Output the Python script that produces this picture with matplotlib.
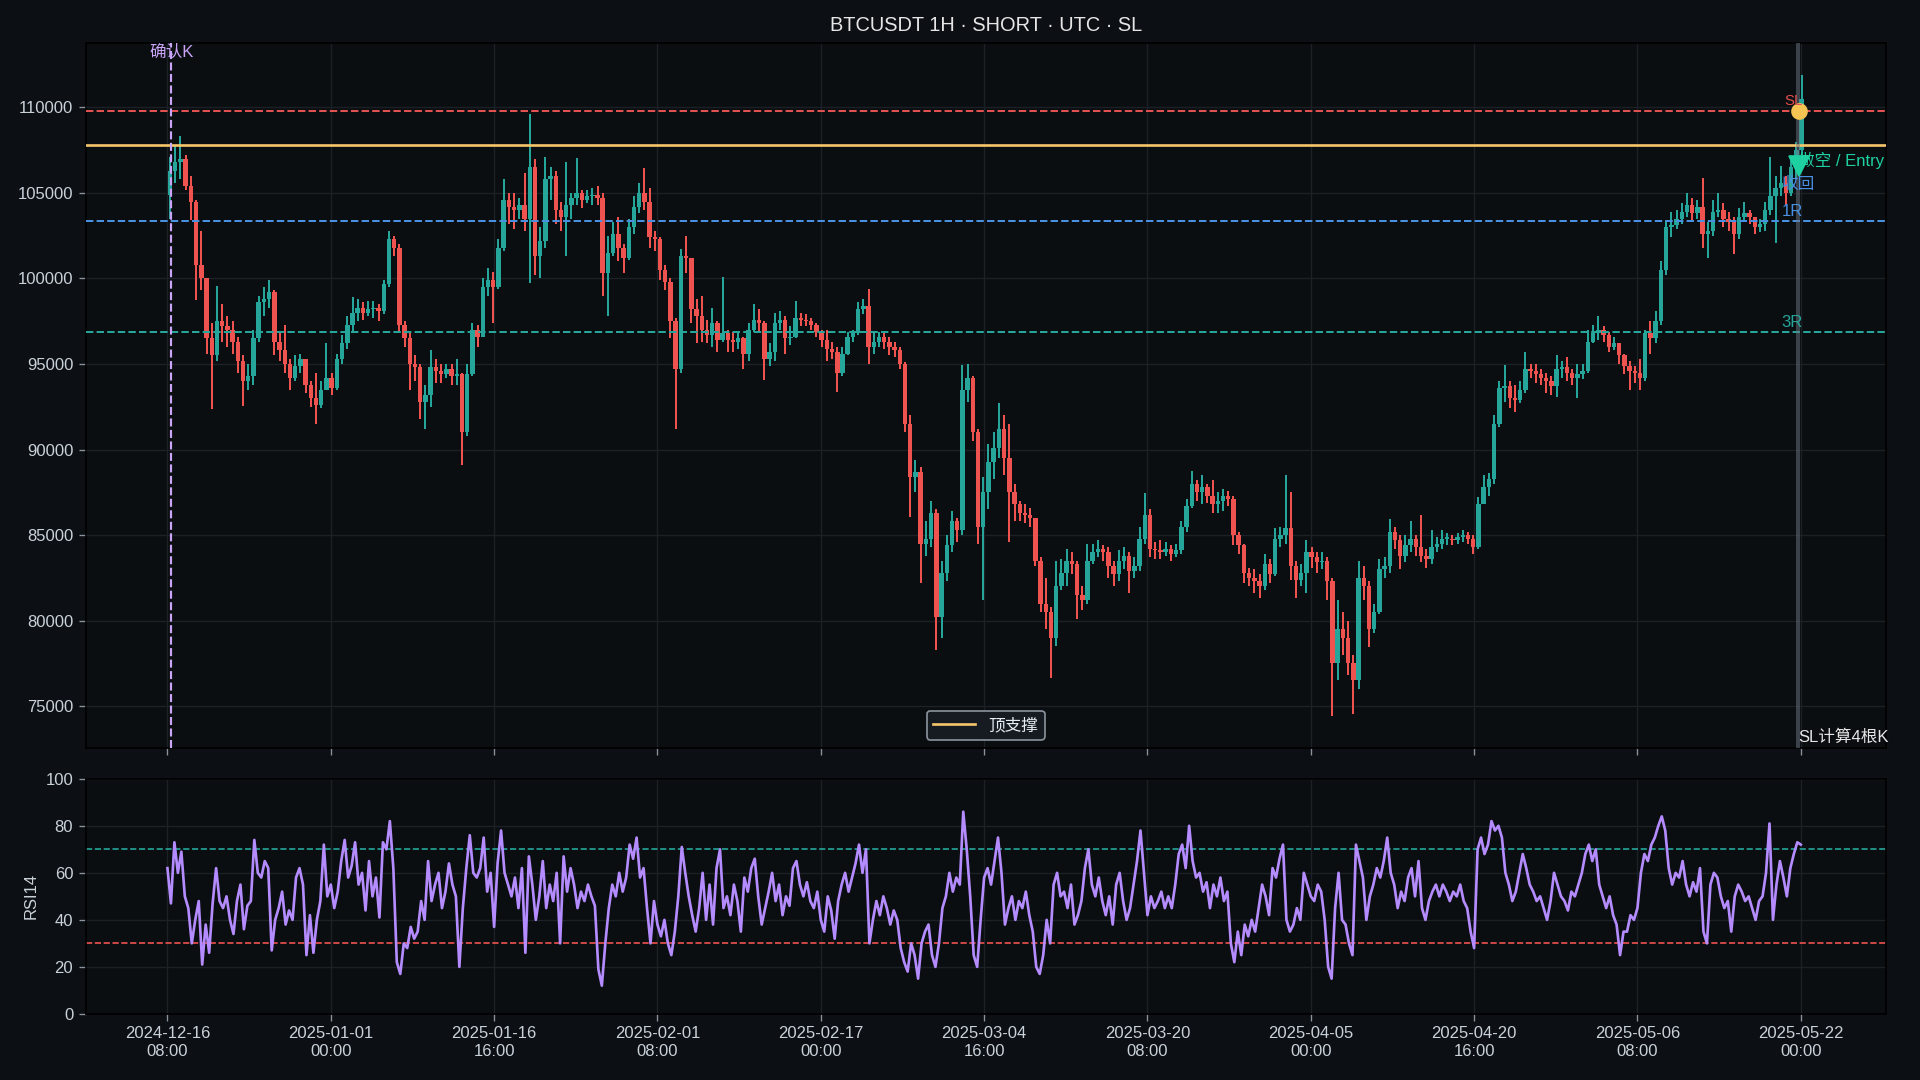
import numpy as np
import matplotlib
matplotlib.use("Agg")
import matplotlib.pyplot as plt
import matplotlib.transforms as mtransforms
from matplotlib.ticker import MultipleLocator, FuncFormatter, FixedLocator

plt.rcParams['font.family'] = ['Liberation Sans', 'Noto Sans CJK SC', 'DejaVu Sans']
plt.rcParams['axes.unicode_minus'] = False

# ---------------- data (12h candles, hours counted from 2024-12-16 08:00 UTC) ----------------
BAR_HOURS = 12
first_open = 104900
closes = [
    106300, 106800, 107000, 105400, 104500, 100800, 100000, 96500, 95500, 97500, 97200, 97000, 96300, 95200, 94000, 94300, 96500, 98600, 98800, 99200,
    96300, 95800, 95000, 94200, 94900, 95300, 93800, 93000, 92600, 93500, 94200, 93600, 95300, 96200, 97300, 98000, 98300, 98000, 98200, 98300,
    98100, 99700, 102300, 101800, 97300, 96500, 95000, 94800, 92800, 93200, 94800, 94600, 94400, 94700, 94300, 94400, 91000, 94400, 97000, 96600,
    99500, 99900, 99500, 101800, 104600, 104200, 104000, 104300, 103500, 106500, 101300, 102200, 105800, 106000, 104000, 103600, 104300, 104700, 105000, 104600,
    104800, 104900, 104700, 100300, 101500, 102600, 101800, 101200, 103000, 104200, 105000, 104500, 102400, 102300, 100500, 99800, 97500, 94700, 101300, 101200,
    98200, 97800, 97000, 96700, 97400, 96400, 96800, 96400, 96300, 96500, 95600, 97000, 97600, 97400, 95300, 95700, 97400, 97600, 96500, 96600,
    97700, 97600, 97500, 97300, 96900, 96400, 95900, 95700, 94500, 95600, 96600, 96800, 98200, 98400, 96000, 96300, 96600, 96300, 96000, 95800,
    95000, 91500, 88400, 88700, 84500, 84800, 86300, 80200, 82800, 84400, 85800, 85300, 93500, 94200, 91000, 85500, 87500, 89300, 90100, 91200,
    89500, 87500, 86800, 86300, 86200, 86000, 83500, 81000, 80500, 79000, 82000, 82800, 83500, 83300, 81500, 81200, 83500, 84000, 84200, 84000,
    83200, 82700, 83500, 83800, 82900, 83200, 84800, 86200, 84200, 84100, 84000, 84200, 83900, 84100, 85500, 86700, 88000, 87500, 87800, 87300,
    86800, 87000, 87300, 87100, 85000, 84400, 82800, 82500, 82300, 82000, 83300, 82700, 84800, 85000, 85400, 83200, 82400, 82800, 84000, 83700,
    83400, 83500, 82300, 77500, 79500, 79000, 77500, 76500, 82500, 82000, 79500, 80500, 83000, 83200, 85200, 84700, 83800, 84400, 84800, 84300,
    83800, 83600, 84300, 84500, 84800, 84800, 84700, 84900, 85000, 84800, 84300, 86800, 87800, 88300, 91500, 93600, 93700, 93000, 92900, 93500,
    94700, 94600, 94400, 94200, 94000, 93700, 94700, 94800, 94500, 94200, 94400, 94600, 96300, 96800, 97000, 96700, 96000, 96200, 95500, 94900,
    94600, 94500, 94200, 96800, 96500, 97500, 100500, 103000, 103100, 103500, 103900, 104300, 103800, 104200, 102600, 102800, 103900, 104000, 103500, 103300,
    102600, 103600, 103800, 103600, 103000, 103200, 104000, 104800, 105300, 105600, 105000, 106500, 107500, 110500,
]
highs = [
    107100, 107800, 108350, 107200, 106000, 104600, 102760, 99400, 97400, 99550, 98500, 97800, 97500, 96600, 95500, 95000, 97000, 99000, 99500, 99940,
    99300, 96800, 97300, 95300, 95500, 95600, 95300, 94000, 94500, 94000, 96250, 94500, 95600, 96700, 97800, 98900, 98800, 98600, 98700, 98700,
    98500, 99940, 102760, 102500, 102000, 97500, 96800, 95500, 95000, 93800, 95800, 95300, 95000, 95000, 95000, 95300, 94500, 95000, 97400, 97300,
    100000, 100600, 100400, 102300, 105800, 105000, 105000, 104700, 106150, 109600, 107000, 103000, 107100, 106500, 106300, 104500, 106830, 105000, 107030, 105200,
    105200, 105300, 105400, 105000, 102500, 103300, 103600, 102000, 103500, 104800, 105600, 106450, 105300, 102800, 102400, 100800, 100000, 97700, 101700, 102460,
    101200, 98800, 99000, 97600, 98300, 97500, 100080, 97000, 96900, 96800, 96600, 97400, 98480, 98200, 97500, 96200, 98000, 98100, 97800, 97200,
    98700, 98000, 97900, 97700, 97400, 97000, 97000, 96300, 96000, 96000, 96900, 97000, 98600, 98800, 99400, 96800, 96900, 96800, 96600, 96300,
    96000, 95100, 92000, 89400, 89000, 85800, 87000, 86500, 83500, 85000, 86400, 86000, 94920, 95000, 94300, 91200, 88400, 90300, 91000, 92730,
    92000, 91500, 88000, 87000, 86800, 86600, 86000, 83700, 82500, 80800, 83500, 83600, 84200, 84000, 83500, 82000, 84500, 84500, 84700, 84400,
    84300, 83500, 84100, 84300, 84000, 83700, 85500, 87440, 86500, 84600, 84700, 84600, 84400, 84500, 85800, 87100, 88740, 88200, 88500, 88000,
    88200, 87500, 87700, 87600, 87300, 85200, 84500, 83100, 83000, 82700, 83900, 83600, 85400, 85500, 88500, 87500, 83500, 83300, 84700, 84300,
    84000, 84000, 83700, 82500, 81200, 80500, 80000, 78000, 83500, 83200, 82300, 81000, 83600, 83700, 85960, 85500, 85000, 85000, 85800, 85000,
    86200, 84200, 85300, 84900, 85300, 85100, 85000, 85100, 85300, 85200, 85000, 87200, 88500, 88600, 92000, 94000, 94920, 94000, 93800, 94000,
    95700, 95000, 95000, 94700, 94500, 94300, 95500, 95200, 95400, 94700, 95000, 95000, 97000, 97300, 97790, 97200, 96900, 96600, 96200, 95600,
    95200, 94900, 95300, 97000, 97500, 98100, 101000, 103400, 103900, 104000, 104400, 105000, 104700, 104600, 105900, 103300, 104600, 105000, 104400, 103900,
    103600, 104100, 104500, 104000, 103600, 103500, 104500, 107130, 106000, 106600, 106000, 107000, 108000, 111900,
]
lows = [
    103500, 105600, 105800, 105200, 103400, 98770, 99300, 95600, 92370, 95200, 96300, 96000, 95600, 94500, 92560, 93500, 93800, 96300, 97800, 98300,
    95500, 95200, 94500, 93500, 94000, 94500, 93300, 92500, 91500, 92400, 93600, 93200, 93500, 95000, 95900, 96800, 97500, 97600, 97800, 97700,
    97500, 97900, 99500, 101300, 96800, 96000, 93500, 94000, 91800, 91200, 92500, 93900, 93900, 94200, 93800, 93800, 89070, 90800, 94300, 96000,
    96600, 99000, 97400, 99400, 101600, 103200, 102900, 103500, 102800, 99750, 100200, 100000, 101800, 104600, 103200, 102800, 101300, 103500, 104300, 104100,
    104400, 104300, 104300, 99000, 97800, 101300, 101000, 100300, 101100, 102600, 103800, 104000, 101800, 101600, 99900, 99300, 96500, 91200, 94500, 100300,
    97400, 96200, 96300, 96200, 96000, 95700, 96300, 95700, 95700, 95900, 94730, 95200, 96900, 96900, 94050, 94900, 95200, 97000, 95600, 96100,
    96500, 97200, 97200, 97000, 96600, 96000, 95200, 95300, 93370, 94300, 95500, 96300, 96700, 97900, 95000, 95600, 96000, 95900, 95500, 95400,
    94700, 91000, 86070, 87500, 82200, 83800, 84300, 78300, 79000, 82300, 84000, 84600, 85000, 92800, 90500, 84500, 81210, 86500, 88300, 89500,
    88500, 84620, 85800, 85800, 85700, 85500, 83200, 80500, 79500, 76640, 78500, 81800, 82000, 82700, 80100, 80600, 81000, 83300, 83700, 83500,
    82500, 82000, 82300, 83000, 81600, 82500, 82900, 84500, 83700, 83600, 83600, 83800, 83500, 83700, 83900, 85200, 86600, 87000, 86800, 86900,
    86300, 86300, 86400, 86700, 84400, 83900, 82200, 82000, 81600, 81300, 81800, 82200, 82600, 84300, 84500, 82400, 81300, 82000, 81600, 83100,
    82800, 83000, 81200, 74420, 76500, 78000, 76800, 74540, 76000, 81200, 78460, 79300, 80400, 82500, 82800, 84200, 83000, 83400, 84000, 83800,
    83400, 83100, 83300, 84000, 84200, 84400, 84400, 84500, 84600, 84500, 83900, 84200, 86800, 87300, 88000, 91300, 92800, 92400, 92200, 92700,
    93300, 94200, 93900, 93800, 93300, 93200, 93100, 94200, 94000, 93800, 93000, 94100, 94500, 96200, 96400, 96300, 95700, 95800, 95000, 94400,
    93500, 93900, 93500, 94000, 95600, 96200, 97300, 100200, 102400, 102900, 103200, 103600, 103300, 103500, 101800, 101180, 102500, 103600, 103000, 102800,
    101420, 102300, 103300, 103200, 102600, 102700, 102800, 103700, 102090, 104800, 104300, 104800, 105800, 106600,
]

# RSI14 read every 8 hours
RSI_STEP_HOURS = 8
rsi_values = [
    62, 47, 73, 60, 69, 50, 45, 30, 40, 48, 21, 38, 26, 47, 62, 48, 45, 50, 40, 34, 48, 55, 36, 46, 48, 74, 60, 58, 65, 62,
    27, 40, 45, 52, 38, 44, 40, 58, 62, 55, 25, 42, 26, 40, 48, 72, 50, 55, 45, 52, 65, 74, 58, 63, 73, 55, 60, 44, 65, 50,
    58, 41, 73, 70, 82, 62, 22, 17, 30, 28, 37, 32, 35, 48, 40, 65, 48, 55, 60, 45, 52, 64, 55, 50, 20, 45, 62, 76, 60, 58,
    62, 75, 52, 60, 37, 64, 78, 60, 55, 50, 58, 45, 62, 26, 67, 55, 40, 50, 65, 45, 55, 48, 60, 30, 67, 52, 62, 55, 45, 52,
    48, 55, 50, 46, 19, 12, 30, 45, 55, 50, 60, 52, 58, 72, 66, 75, 58, 62, 45, 30, 48, 38, 33, 40, 30, 25, 35, 50, 71, 60,
    50, 42, 35, 45, 60, 40, 55, 38, 62, 70, 45, 50, 42, 55, 48, 35, 58, 52, 62, 66, 50, 38, 45, 52, 60, 48, 55, 42, 50, 46,
    62, 65, 55, 50, 56, 48, 45, 52, 40, 35, 50, 44, 32, 48, 55, 60, 52, 58, 64, 72, 60, 70, 30, 40, 48, 42, 50, 45, 38, 44,
    40, 28, 22, 18, 30, 25, 15, 30, 35, 38, 25, 20, 30, 45, 50, 60, 52, 58, 55, 86, 70, 50, 25, 20, 40, 58, 62, 55, 65, 75,
    60, 38, 45, 50, 40, 48, 45, 52, 42, 35, 20, 17, 25, 40, 30, 55, 60, 50, 52, 45, 55, 38, 42, 48, 62, 70, 55, 50, 58, 48,
    42, 50, 38, 55, 60, 48, 40, 45, 55, 65, 78, 60, 42, 50, 45, 48, 52, 45, 50, 45, 55, 68, 72, 62, 80, 65, 58, 60, 52, 56,
    45, 55, 50, 58, 48, 52, 30, 22, 35, 25, 38, 33, 40, 35, 45, 55, 50, 42, 62, 58, 66, 72, 40, 35, 38, 45, 40, 60, 55, 50,
    48, 55, 52, 40, 20, 15, 45, 60, 40, 38, 30, 25, 72, 65, 58, 40, 50, 55, 62, 58, 65, 75, 60, 55, 45, 52, 48, 58, 62, 50,
    65, 45, 40, 48, 52, 55, 50, 55, 52, 48, 52, 50, 55, 48, 45, 35, 28, 70, 75, 68, 72, 82, 78, 80, 75, 60, 55, 48, 52, 60,
    68, 62, 55, 52, 48, 50, 45, 40, 48, 60, 55, 50, 48, 44, 52, 50, 55, 60, 68, 72, 65, 70, 55, 50, 45, 50, 42, 38, 25, 35,
    35, 42, 40, 45, 60, 68, 65, 72, 75, 80, 84, 78, 62, 55, 60, 58, 65, 55, 50, 56, 52, 62, 35, 30, 55, 60, 58, 50, 45, 48,
    35, 50, 55, 52, 48, 50, 45, 40, 48, 50, 60, 81, 40, 55, 65, 58, 50, 62, 68, 73, 72,
]

tick_hours = [0, 376, 752, 1128, 1504, 1880, 2256, 2632, 3008, 3384, 3760]
tick_labels = ["2024-12-16\n08:00", "2025-01-01\n00:00", "2025-01-16\n16:00", "2025-02-01\n08:00",
               "2025-02-17\n00:00", "2025-03-04\n16:00", "2025-03-20\n08:00", "2025-04-05\n00:00",
               "2025-04-20\n16:00", "2025-05-06\n08:00", "2025-05-22\n00:00"]

stop_loss = 109810
top_support = 107800
entry_price = 106575
target_1r = 103340
target_3r = 96870
confirm_hour = 9
signal_hour = 3754
entry_hour = 3756

# ---------------- styling ----------------
BG_FIG = '#0c0f13'
BG_AX = '#0b0e11'
UP = '#26a69a'
DOWN = '#ef5350'
GRID = '#1c2128'
TXT = '#c9d1d9'
YELLOW = '#f5c56b'
SL_RED = '#e0514f'
BLUE = '#4a90e2'
TEAL = '#26a69a'
LAVENDER = '#c9a4f7'
ENTRY_C = '#1dd1a1'
RSI_C = '#b48cff'

fig = plt.figure(figsize=(16, 9), dpi=120, facecolor=BG_FIG)
ax = fig.add_axes([0.0446, 0.3073, 0.9375, 0.6530])
axr = fig.add_axes([0.0446, 0.0612, 0.9375, 0.2177], sharex=ax)

for a in (ax, axr):
    a.set_facecolor(BG_AX)
    for s in a.spines.values():
        s.set_color('#000000')
        s.set_linewidth(1.0)
    a.grid(True, color=GRID, linewidth=0.8)
    a.set_axisbelow(True)
    a.tick_params(colors='#8b949e', labelcolor=TXT, labelsize=10, length=4)

# ---------------- candles ----------------
n = min(len(closes), len(highs), len(lows))
c = np.asarray(closes[:n], dtype=float)
h = np.asarray(highs[:n], dtype=float)
l = np.asarray(lows[:n], dtype=float)
o = np.r_[first_open, c[:-1]]
xc = np.arange(n) * BAR_HOURS + BAR_HOURS / 2
up = c >= o
col = np.where(up, UP, DOWN)
wick_hi = np.maximum.reduce([h, o, c])
wick_lo = np.minimum.reduce([l, o, c])
ax.vlines(xc, wick_lo, wick_hi, colors=col, linewidth=1.2, zorder=2)
body_lo = np.minimum(o, c)
body_h = np.maximum(np.abs(c - o), 60)
ax.bar(xc, body_h, bottom=body_lo, width=BAR_HOURS * 0.85, color=col, edgecolor=col, linewidth=0, zorder=2)

x_last = n * BAR_HOURS - 1
pad = 0.05 * x_last
ax.set_xlim(-pad, x_last + pad)
ymin, ymax = wick_lo.min(), wick_hi.max()
ypad = 0.05 * (ymax - ymin)
ax.set_ylim(ymin - ypad, ymax + ypad)

# ---------------- level lines ----------------
ax.axhline(stop_loss, color=SL_RED, linestyle='--', linewidth=1.2, zorder=3)
ax.axhline(top_support, color=YELLOW, linestyle='-', linewidth=1.6, zorder=3, label='顶支撑')
ax.axhline(target_1r, color=BLUE, linestyle='--', linewidth=1.2, zorder=3)
ax.axhline(target_3r, color=TEAL, linestyle='--', linewidth=1.2, zorder=3)
ax.axvline(confirm_hour, color=LAVENDER, linestyle='--', linewidth=1.3, zorder=3)
ax.axvline(signal_hour, color='#6e7681', linewidth=2.4, alpha=0.5, zorder=3)

trans = mtransforms.blended_transform_factory(ax.transData, ax.transAxes)
ax.text(confirm_hour, 0.998, '确认K', transform=trans, ha='center', va='top', color=LAVENDER, fontsize=10, zorder=5)
ax.text(signal_hour, 0.004, 'SL计算4根K', transform=trans, ha='left', va='bottom', color='#e6e6e6', fontsize=10, zorder=5)

# markers & labels near the trade
ax.plot([entry_hour], [entry_price], marker='v', markersize=12, color=ENTRY_C, linestyle='none', zorder=6)
ax.text(entry_hour - 2, entry_price + 300, '做空 / Entry', ha='left', va='center', color=ENTRY_C, fontsize=10, zorder=6)
ax.plot([entry_hour], [stop_loss], marker='o', markersize=9, color='#f6c453', linestyle='none', zorder=6)
ax.text(entry_hour - 12, stop_loss + 550, 'SL', ha='center', va='center', color=SL_RED, fontsize=9, zorder=6)
lbl_x = entry_hour - 40
ax.text(lbl_x, entry_price - 1070, '收回', ha='left', va='center', color=BLUE, fontsize=10, zorder=6)
ax.text(lbl_x, target_1r + 120, '1R', ha='left', va='bottom', color=BLUE, fontsize=10, zorder=6)
ax.text(lbl_x, target_3r + 120, '3R', ha='left', va='bottom', color=TEAL, fontsize=10, zorder=6)

ax.yaxis.set_major_locator(MultipleLocator(5000))
ax.yaxis.set_major_formatter(FuncFormatter(lambda v, p: f'{v:.0f}'))
ax.xaxis.set_major_locator(FixedLocator(tick_hours))
ax.tick_params(axis='x', labelbottom=False)

ax.set_title('BTCUSDT 1H · SHORT · UTC · SL', color='#e6e6e6', fontsize=12, pad=7)

leg = ax.legend(loc='lower center', facecolor='#161b22', edgecolor='#8b949e', framealpha=1.0,
                fontsize=10, handlelength=2.5)
for t in leg.get_texts():
    t.set_color('#e6edf3')

# ---------------- RSI ----------------
rsi_x = np.arange(len(rsi_values)) * RSI_STEP_HOURS
axr.plot(rsi_x, rsi_values, color=RSI_C, linewidth=1.6, zorder=3)
axr.axhline(70, color=TEAL, linestyle='--', linewidth=1.0, zorder=2)
axr.axhline(30, color=DOWN, linestyle='--', linewidth=1.0, zorder=2)
axr.set_ylim(0, 100)
axr.yaxis.set_major_locator(MultipleLocator(20))
axr.set_ylabel('RSI14', color=TXT, fontsize=10)
axr.set_xticks(tick_hours)
axr.set_xticklabels(tick_labels)

fig.savefig('out.png', dpi=120, facecolor=BG_FIG)
